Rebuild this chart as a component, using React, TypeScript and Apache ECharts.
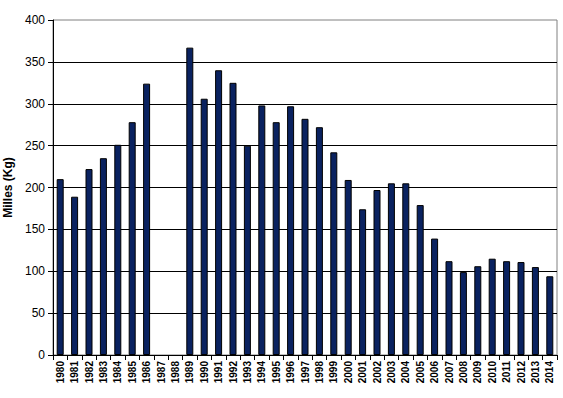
import React, { useEffect, useRef } from "react";
import * as echarts from "echarts";

const years = [
  "1980", "1981", "1982", "1983", "1984", "1985", "1986", "1987", "1988", "1989",
  "1990", "1991", "1992", "1993", "1994", "1995", "1996", "1997", "1998", "1999",
  "2000", "2001", "2002", "2003", "2004", "2005", "2006", "2007", "2008", "2009",
  "2010", "2011", "2012", "2013", "2014",
];
const values: (number | null)[] = [
  210, 189, 222, 235, 251, 278, 324, null, null, 367,
  306, 340, 325, 250, 298, 278, 297, 282, 272, 242,
  209, 174, 197, 205, 205, 179, 139, 112, 99, 106,
  115, 112, 111, 105, 94,
];
const yTicks = { min: 0, max: 400, interval: 50 };
const yName = "Milles (Kg)";

export default function App() {
  const ref = useRef<HTMLDivElement>(null);
  useEffect(() => {
    if (!ref.current) return;
    const chart = echarts.init(ref.current, undefined, { renderer: "svg" });
    const font = "Liberation Sans, Arial, sans-serif";
    chart.setOption({
      animation: false,
      backgroundColor: "#ffffff",
      grid: {
        left: 53,
        right: 6,
        top: 20,
        bottom: 43,
        show: true,
        borderColor: "#808080",
        borderWidth: 1,
        containLabel: false,
        outerBoundsMode: "none",
      },
      xAxis: {
        type: "category",
        data: years,
        axisLine: { lineStyle: { color: "#000", width: 1 } },
        axisTick: { show: true, alignWithLabel: false, length: 5, lineStyle: { color: "#000" } },
        axisLabel: {
          rotate: 90,
          interval: 0,
          fontFamily: font,
          fontWeight: "bold",
          fontSize: 10,
          color: "#000",
          margin: 6,
        },
        splitLine: { show: false },
      },
      yAxis: {
        type: "value",
        min: yTicks.min,
        max: yTicks.max,
        interval: yTicks.interval,
        name: yName,
        nameLocation: "middle",
        nameGap: 37,
        nameRotate: 90,
        nameTextStyle: { fontFamily: font, fontWeight: "bold", fontSize: 12, color: "#000" },
        axisLine: { show: true, lineStyle: { color: "#000", width: 1 } },
        axisTick: { show: true, length: 5, lineStyle: { color: "#000" } },
        axisLabel: { fontFamily: font, fontSize: 12, color: "#000", margin: 8 },
        splitLine: { show: true, showMaxLine: false, lineStyle: { color: "#000", width: 1 } },
      },
      series: [
        {
          type: "bar",
          data: values,
          barWidth: 7,
          itemStyle: { color: "#0a2260", borderColor: "#000", borderWidth: 1 },
        },
      ],
    });
    return () => chart.dispose();
  }, []);
  return <div ref={ref} style={{ width: 563, height: 398, position: "absolute", left: 0, top: 0 }} />;
}
